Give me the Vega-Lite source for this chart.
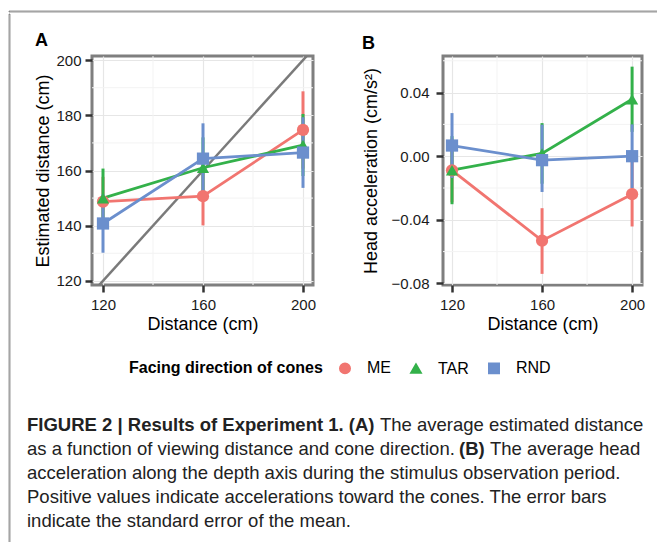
{
  "$schema": "https://vega.github.io/schema/vega-lite/v6.json",
  "padding": {"left": 8, "top": 10, "right": 0, "bottom": 0},
  "background": "white",
  "config": {
    "font": "Liberation Sans",
    "view": {"stroke": null},
    "axis": {
      "labelFont": "Liberation Sans", "labelFontSize": 15, "labelColor": "#1a1a1a",
      "titleFont": "Liberation Sans", "titleFontSize": 18, "titleFontWeight": "normal", "titleColor": "#000000",
      "tickColor": "#333333", "tickWidth": 2.5, "tickSize": 7, "domain": false,
      "gridColor": "#e6e6e6", "gridWidth": 1.2
    },
    "axisX": {"labelPadding": 5, "titlePadding": 3},
    "axisY": {"labelPadding": 4, "titlePadding": 3},
    "title": {"font": "Liberation Sans", "fontSize": 18, "fontWeight": "bold", "anchor": "start", "frame": "bounds", "offset": 3, "color": "#000000"},
    "legend": {"layout": {"bottom": {"anchor": "middle"}}, "titleLimit": 400, "labelLimit": 200}
  },
  "datasets": {
    "A": [
      {"g": "ME", "d": 120, "v": 148.7, "lo": 139.7, "hi": 157.7},
      {"g": "ME", "d": 160, "v": 150.7, "lo": 140.1, "hi": 161.3},
      {"g": "ME", "d": 200, "v": 174.7, "lo": 160.7, "hi": 188.7},
      {"g": "TAR", "d": 120, "v": 150.0, "lo": 139.3, "hi": 160.7},
      {"g": "TAR", "d": 160, "v": 161.0, "lo": 150.0, "hi": 172.0},
      {"g": "TAR", "d": 200, "v": 169.2, "lo": 158.0, "hi": 180.5},
      {"g": "RND", "d": 120, "v": 140.8, "lo": 130.2, "hi": 151.4},
      {"g": "RND", "d": 160, "v": 164.3, "lo": 151.5, "hi": 177.1},
      {"g": "RND", "d": 200, "v": 166.5, "lo": 153.7, "hi": 179.3}
    ],
    "B": [
      {"g": "ME", "d": 120, "v": -0.0089, "lo": -0.029, "hi": 0.011},
      {"g": "ME", "d": 160, "v": -0.0531, "lo": -0.074, "hi": -0.0327},
      {"g": "ME", "d": 200, "v": -0.0239, "lo": -0.0442, "hi": -0.0036},
      {"g": "TAR", "d": 120, "v": -0.0088, "lo": -0.0302, "hi": 0.0126},
      {"g": "TAR", "d": 160, "v": 0.0017, "lo": -0.0173, "hi": 0.0208},
      {"g": "TAR", "d": 200, "v": 0.0358, "lo": 0.0153, "hi": 0.0563},
      {"g": "RND", "d": 120, "v": 0.0067, "lo": -0.0137, "hi": 0.0271},
      {"g": "RND", "d": 160, "v": -0.0025, "lo": -0.0225, "hi": 0.0198},
      {"g": "RND", "d": 200, "v": 0.0, "lo": -0.02, "hi": 0.02}
    ]
  },
  "spacing": 0,
  "vconcat": [
    {
      "width": 649, "height": 1,
      "view": {"stroke": "#333333", "strokeWidth": 0.5},
      "data": {"values": []},
      "mark": "rule",
      "encoding": {}
    },
    {
      "spacing": 16,
      "hconcat": [
        {
          "width": 1, "height": 540,
          "view": {"stroke": "#333333", "strokeWidth": 0.5},
          "data": {"values": []},
          "mark": "rule",
          "encoding": {}
        },
        {
          "spacing": 15,
          "vconcat": [
            {
              "width": 1, "height": 1,
              "data": {"values": []},
              "mark": "rule",
              "encoding": {}
            },
            {
              "resolve": {"scale": {"color": "independent", "shape": "independent"}},
              "spacing": 36,
              "vconcat": [
                {
                  "spacing": 42,
                  "hconcat": [
                    {
                      "width": 221, "height": 229,
                      "title": "A",
                      "view": {"stroke": "#7f7f7f", "strokeWidth": 3},
                      "layer": [
                        {
                          "data": {"values": [{"d": 140}, {"d": 180}]},
                          "mark": {"type": "rule", "color": "#f3f3f3", "strokeWidth": 1},
                          "encoding": {"x": {"field": "d", "type": "quantitative"}}
                        },
                        {
                          "data": {"values": [{"v": 130}, {"v": 150}, {"v": 170}, {"v": 190}]},
                          "mark": {"type": "rule", "color": "#f3f3f3", "strokeWidth": 1},
                          "encoding": {"y": {"field": "v", "type": "quantitative"}}
                        },
                        {
                          "data": {"values": [{"d": 100, "v": 100}, {"d": 220, "v": 220}]},
                          "mark": {"type": "line", "color": "#7a7a7a", "strokeWidth": 2.5, "clip": true},
                          "encoding": {
                            "x": {"field": "d", "type": "quantitative"},
                            "y": {"field": "v", "type": "quantitative"}
                          }
                        },
                        {
                          "data": {"name": "A"},
                          "mark": {"type": "rule", "strokeWidth": 3},
                          "encoding": {
                            "x": {"field": "d", "type": "quantitative"},
                            "y": {"field": "lo", "type": "quantitative"},
                            "y2": {"field": "hi"},
                            "color": {"field": "g", "type": "nominal"}
                          }
                        },
                        {
                          "data": {"name": "A"},
                          "mark": {"type": "line", "strokeWidth": 2.8},
                          "encoding": {
                            "x": {"field": "d", "type": "quantitative"},
                            "y": {"field": "v", "type": "quantitative"},
                            "color": {"field": "g", "type": "nominal"}
                          }
                        },
                        {
                          "data": {"name": "A"},
                          "mark": {"type": "point", "filled": true, "opacity": 1, "size": 150},
                          "encoding": {
                            "x": {"field": "d", "type": "quantitative", "title": "Distance (cm)",
                                  "scale": {"domain": [115.6, 204], "nice": false, "zero": false},
                                  "axis": {"values": [120, 160, 200]}},
                            "y": {"field": "v", "type": "quantitative", "title": "Estimated distance (cm)",
                                  "scale": {"domain": [118.5, 201.5], "nice": false, "zero": false},
                                  "axis": {"values": [120, 140, 160, 180, 200]}},
                            "color": {"field": "g", "type": "nominal",
                                      "scale": {"domain": ["ME", "TAR", "RND"], "range": ["#f17570", "#33b14a", "#6b8fcd"]},
                                      "legend": {"title": "Facing direction of cones", "orient": "bottom", "direction": "horizontal", "titleOrient": "left",
                                                 "titleFontSize": 16, "titleFontWeight": "bold", "titleColor": "#000000", "labelFontSize": 16, "labelColor": "#000000",
                                                 "symbolSize": 110, "labelOffset": 14, "columnPadding": 16, "titlePadding": 14, "offset": 25}},
                            "shape": {"field": "g", "type": "nominal",
                                      "scale": {"domain": ["ME", "TAR", "RND"], "range": ["circle", "triangle-up", "square"]},
                                      "legend": {"title": "Facing direction of cones", "orient": "bottom", "direction": "horizontal", "titleOrient": "left",
                                                 "titleFontSize": 16, "titleFontWeight": "bold", "titleColor": "#000000", "labelFontSize": 16, "labelColor": "#000000",
                                                 "symbolSize": 110, "labelOffset": 14, "columnPadding": 16, "titlePadding": 14, "offset": 25}}
                          }
                        }
                      ]
                    },
                    {
                      "width": 199, "height": 229,
                      "title": "B",
                      "view": {"stroke": "#7f7f7f", "strokeWidth": 3},
                      "layer": [
                        {
                          "data": {"values": [{"d": 140}, {"d": 180}]},
                          "mark": {"type": "rule", "color": "#f3f3f3", "strokeWidth": 1},
                          "encoding": {"x": {"field": "d", "type": "quantitative"}}
                        },
                        {
                          "data": {"values": [{"v": -0.06}, {"v": -0.02}, {"v": 0.02}, {"v": 0.06}]},
                          "mark": {"type": "rule", "color": "#f3f3f3", "strokeWidth": 1},
                          "encoding": {"y": {"field": "v", "type": "quantitative"}}
                        },
                        {
                          "data": {"name": "B"},
                          "mark": {"type": "rule", "strokeWidth": 3},
                          "encoding": {
                            "x": {"field": "d", "type": "quantitative"},
                            "y": {"field": "lo", "type": "quantitative"},
                            "y2": {"field": "hi"},
                            "color": {"field": "g", "type": "nominal"}
                          }
                        },
                        {
                          "data": {"name": "B"},
                          "mark": {"type": "line", "strokeWidth": 2.8},
                          "encoding": {
                            "x": {"field": "d", "type": "quantitative"},
                            "y": {"field": "v", "type": "quantitative"},
                            "color": {"field": "g", "type": "nominal"}
                          }
                        },
                        {
                          "data": {"name": "B"},
                          "mark": {"type": "point", "filled": true, "opacity": 1, "size": 150},
                          "encoding": {
                            "x": {"field": "d", "type": "quantitative", "title": "Distance (cm)",
                                  "scale": {"domain": [116, 204.4], "nice": false, "zero": false},
                                  "axis": {"values": [120, 160, 200]}},
                            "y": {"field": "v", "type": "quantitative", "title": "Head acceleration (cm/s²)",
                                  "scale": {"domain": [-0.081, 0.063], "nice": false, "zero": false},
                                  "axis": {"values": [-0.08, -0.04, 0, 0.04], "format": ".2f", "labelPadding": 7, "titlePadding": 11}},
                            "color": {"field": "g", "type": "nominal",
                                      "scale": {"domain": ["ME", "TAR", "RND"], "range": ["#f17570", "#33b14a", "#6b8fcd"]},
                                      "legend": {"title": "Facing direction of cones", "orient": "bottom", "direction": "horizontal", "titleOrient": "left",
                                                 "titleFontSize": 16, "titleFontWeight": "bold", "titleColor": "#000000", "labelFontSize": 16, "labelColor": "#000000",
                                                 "symbolSize": 110, "labelOffset": 14, "columnPadding": 16, "titlePadding": 14, "offset": 25}},
                            "shape": {"field": "g", "type": "nominal",
                                      "scale": {"domain": ["ME", "TAR", "RND"], "range": ["circle", "triangle-up", "square"]},
                                      "legend": {"title": "Facing direction of cones", "orient": "bottom", "direction": "horizontal", "titleOrient": "left",
                                                 "titleFontSize": 16, "titleFontWeight": "bold", "titleColor": "#000000", "labelFontSize": 16, "labelColor": "#000000",
                                                 "symbolSize": 110, "labelOffset": 14, "columnPadding": 16, "titlePadding": 14, "offset": 25}}
                          }
                        }
                      ]
                    }
                  ]
                },
                {
                  "width": 560, "height": 120,
                  "data": {"values": [
                    {"line": 1, "part": "b0", "text": "FIGURE 2 | Results of Experiment 1. (A)"},
                    {"line": 1, "part": "n1", "text": "The average estimated distance"},
                    {"line": 2, "part": "n0", "text": "as a function of viewing distance and cone direction."},
                    {"line": 2, "part": "bB", "text": "(B)"},
                    {"line": 2, "part": "n2", "text": "The average head"},
                    {"line": 3, "part": "n0", "text": "acceleration along the depth axis during the stimulus observation period."},
                    {"line": 4, "part": "n0", "text": "Positive values indicate accelerations toward the cones. The error bars"},
                    {"line": 5, "part": "n0", "text": "indicate the standard error of the mean."}
                  ]},
                  "encoding": {
                    "y": {"field": "line", "type": "ordinal", "axis": null},
                    "x": {"value": -65},
                    "text": {"field": "text"}
                  },
                  "layer": [
                    {"transform": [{"filter": "datum.part === 'n0'"}], "mark": {"type": "text", "align": "left", "baseline": "middle", "fontSize": 18.5, "color": "#222222"}},
                    {"transform": [{"filter": "datum.part === 'b0'"}], "mark": {"type": "text", "align": "left", "baseline": "middle", "fontSize": 18.5, "fontWeight": "bold", "color": "#222222"}},
                    {"transform": [{"filter": "datum.part === 'n1'"}], "mark": {"type": "text", "align": "left", "baseline": "middle", "fontSize": 18.5, "color": "#222222", "dx": 353}},
                    {"transform": [{"filter": "datum.part === 'bB'"}], "mark": {"type": "text", "align": "left", "baseline": "middle", "fontSize": 18.5, "fontWeight": "bold", "color": "#222222", "dx": 432}},
                    {"transform": [{"filter": "datum.part === 'n2'"}], "mark": {"type": "text", "align": "left", "baseline": "middle", "fontSize": 18.5, "color": "#222222", "dx": 463}}
                  ]
                }
              ]
            }
          ]
        }
      ]
    }
  ]
}
